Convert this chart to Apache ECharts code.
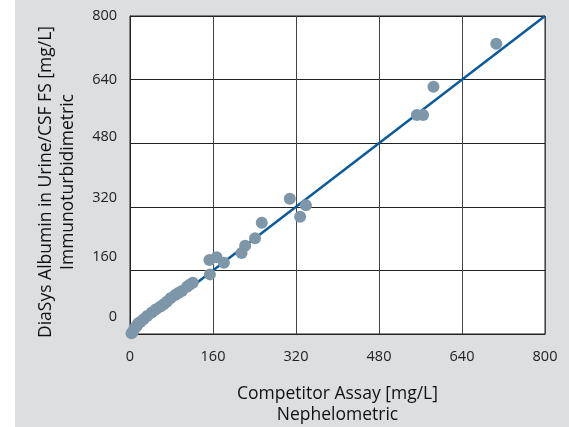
<!DOCTYPE html>
<html>
<head>
<meta charset="utf-8">
<script src="https://cdn.jsdelivr.net/npm/echarts@6/dist/echarts.min.js"></script>
<style>
html,body{margin:0;padding:0;background:#ffffff;width:569px;height:427px;overflow:hidden;}
#chart{position:absolute;left:15px;top:0;width:554px;height:427px;background:#dddee0;}
</style>
</head>
<body>
<div id="chart"></div>
<script>
// Data
const competitorX = [3, 6, 10, 13, 16, 20, 26, 33, 42, 50, 59, 65, 71, 78, 87, 93, 100, 110, 115, 121, 154, 153, 167, 181, 215, 222, 241, 254, 308, 328, 339, 553, 565, 585, 706];
const diasysY     = [2, 6, 17, 20, 27, 30, 37, 45, 54, 62, 69, 75, 81, 90, 98, 103, 108, 119, 124, 129, 150, 186, 193, 179, 204, 222, 241, 280, 340, 295, 324, 551, 551, 622, 730];
const identityLine = [[0, 0], [800, 800]];
const tickValues = [0, 160, 320, 480, 640, 800];
const xTitle = ['Competitor Assay [mg/L]', 'Nephelometric'];
const yTitle = ['DiaSys Albumin in Urine/CSF FS [mg/L]', 'Immunoturbidimetric'];

// style: label padding [top, bottom] producing the upward drift of the y labels seen in the reference
const yLabelPad = {0: [0, 34], 160: [0, 28], 320: [0, 18], 480: [0, 12], 640: [0, 0], 800: [0, 0]};
const font = 'Open Sans';
const rich = {};
Object.keys(yLabelPad).forEach(k => {
  rich['s' + k] = {padding: [yLabelPad[k][0], 0, yLabelPad[k][1], 0], fontSize: 14.5, color: '#222', fontFamily: font};
});

const points = competitorX.map((x, i) => [x, diasysY[i]]);
const chart = echarts.init(document.getElementById('chart'));
chart.setOption({
  animation: false,
  grid: {left: 115, right: 24, top: 16, bottom: 93, show: true, backgroundColor: '#ffffff', borderColor: '#222', borderWidth: 1,
         containLabel: false, outerBoundsMode: 'none'},
  xAxis: {
    type: 'value', min: tickValues[0], max: tickValues[tickValues.length - 1], interval: 160,
    name: xTitle.join('\n'), nameLocation: 'middle', nameGap: 50,
    nameTextStyle: {fontSize: 17.5, color: '#111', fontFamily: font, lineHeight: 21},
    axisLine: {show: true, lineStyle: {color: '#222', width: 1}},
    axisTick: {show: false},
    axisLabel: {fontSize: 14.5, color: '#222', fontFamily: font, margin: 15},
    splitLine: {show: true, lineStyle: {color: '#444', width: 1}}
  },
  yAxis: {
    type: 'value', min: tickValues[0], max: tickValues[tickValues.length - 1], interval: 160,
    name: yTitle.join('\n'), nameLocation: 'middle', nameGap: 51, nameRotate: 90,
    nameTextStyle: {fontSize: 17.5, color: '#111', fontFamily: font, lineHeight: 22, padding: [0, 14, 0, 0]},
    axisLine: {show: true, lineStyle: {color: '#222', width: 1}},
    axisTick: {show: false},
    axisLabel: {fontSize: 14.5, color: '#222', fontFamily: font, margin: 13,
      formatter: v => '{s' + v + '|' + v + '}', rich: rich},
    splitLine: {show: true, lineStyle: {color: '#222', width: 1}}
  },
  series: [
    {type: 'line', data: identityLine, symbol: 'none', z: 2,
     lineStyle: {color: '#0b5a9b', width: 2.5}},
    {type: 'scatter', data: points, symbolSize: 12, z: 3,
     itemStyle: {color: '#7d97a9', opacity: 1}}
  ]
});
</script>
</body>
</html>
